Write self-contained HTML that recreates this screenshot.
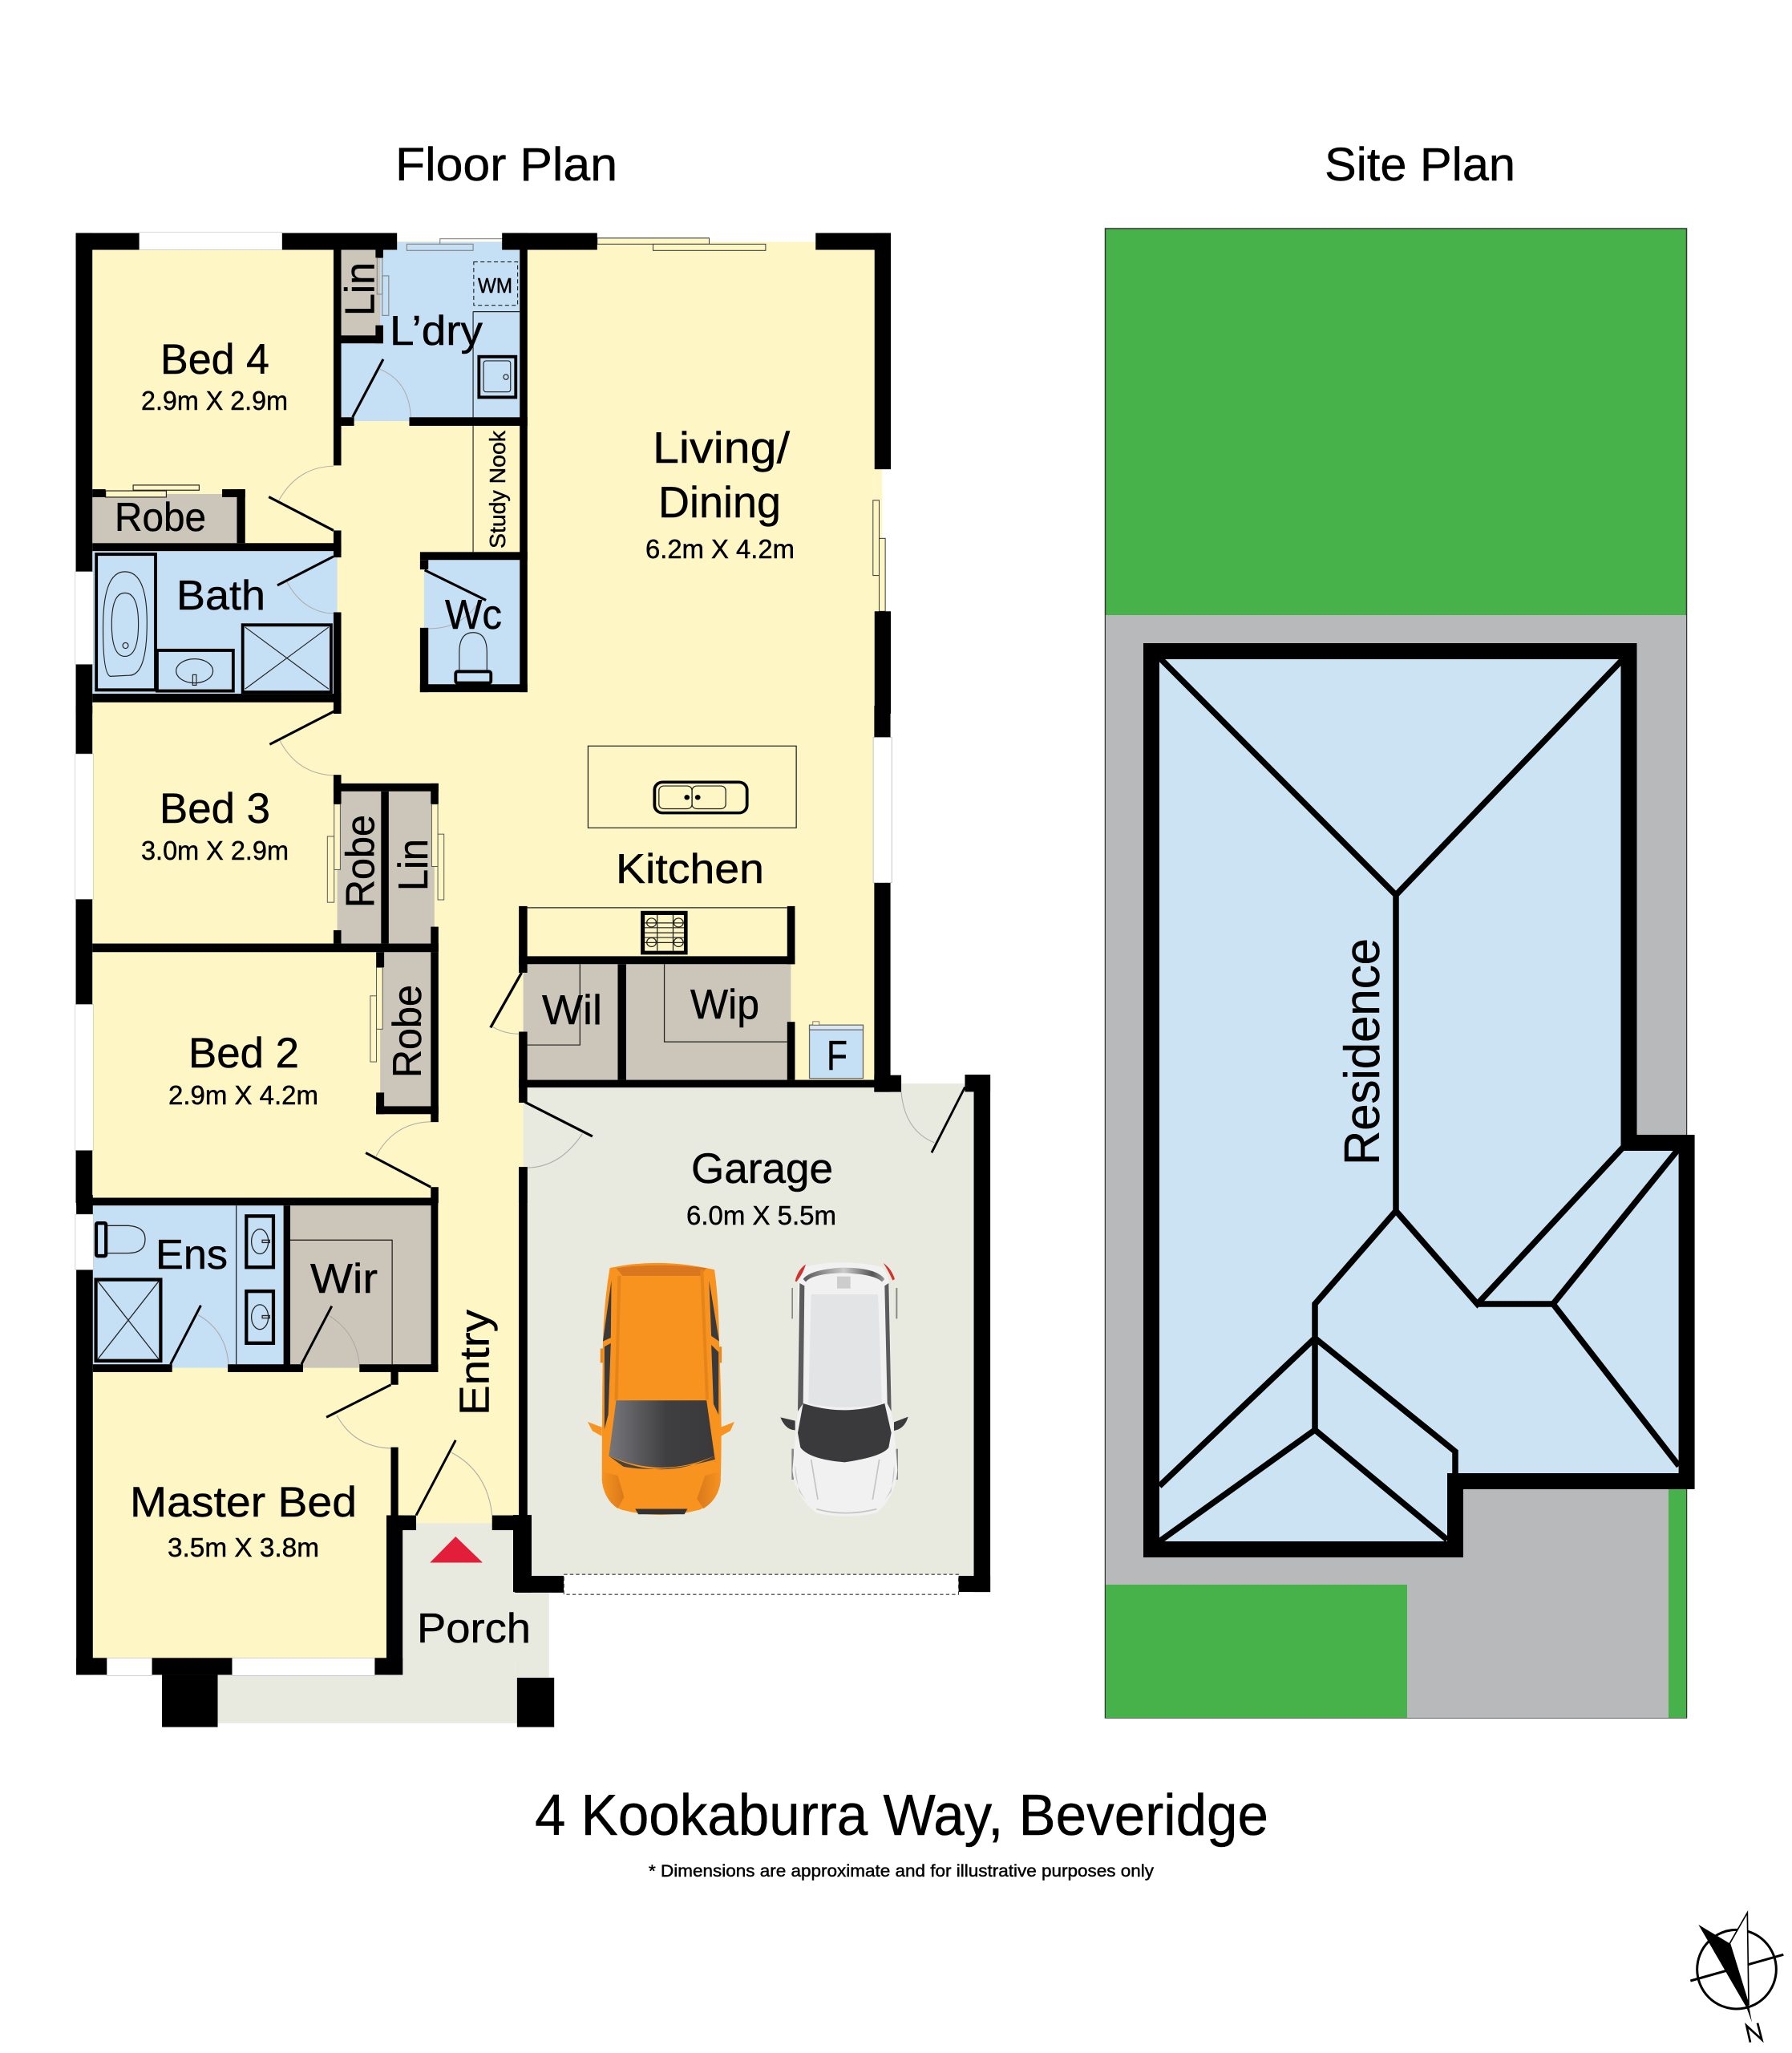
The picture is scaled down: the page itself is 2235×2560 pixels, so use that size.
<!DOCTYPE html>
<html><head><meta charset="utf-8"><style>
html,body{margin:0;padding:0;background:#fff}
svg{display:block}
text{font-family:"Liberation Sans",sans-serif;fill:#000;stroke:#000;stroke-width:.45}
</style></head><body>
<svg xmlns="http://www.w3.org/2000/svg" width="2235" height="2560" viewBox="0 0 2235 2560">
<defs>
<linearGradient id="ws" x1="0" y1="0" x2="1" y2="0"><stop offset="0" stop-color="#77777b"/><stop offset=".55" stop-color="#3f3e40"/><stop offset="1" stop-color="#3a393b"/></linearGradient>
<linearGradient id="hl" x1="0" y1="0" x2="1" y2="0"><stop offset="0" stop-color="#f7931e"/><stop offset="1" stop-color="#d9791c"/></linearGradient>
<linearGradient id="hr" x1="1" y1="0" x2="0" y2="0"><stop offset="0" stop-color="#f7931e"/><stop offset="1" stop-color="#d9791c"/></linearGradient>
<linearGradient id="wt" x1="0" y1="0" x2="1" y2="0"><stop offset="0" stop-color="#555"/><stop offset=".5" stop-color="#ccc"/><stop offset=".85" stop-color="#555"/><stop offset="1" stop-color="#999"/></linearGradient>
</defs>
<rect width="2235" height="2560" fill="#fff"/>
<rect x="110" y="301" width="990" height="1054" fill="#fef6c4"/>
<rect x="110" y="1355" width="545" height="715" fill="#fef6c4"/>

<!-- ZONE 5 garage base -->
<g transform="translate(640 1340) scale(.39541 .44643)">
<rect x="32" y="36" width="1421" height="1370" fill="#e9eadf"/>
<rect x="1225" y="25" width="200" height="15" fill="#e9eadf"/>
</g>

<!-- ZONE 1 -->
<g transform="translate(80 270) scale(.38265 .39541)">
<rect x="92" y="875" width="471" height="155" fill="#ccc6ba"/>
<rect x="92" y="1055" width="798" height="450" fill="#c5dff4"/>
<rect x="903" y="80" width="582" height="565" fill="#c5dff4"/>
<rect x="903" y="105" width="127" height="270" fill="#ccc6ba"/>
<rect x="1173" y="1083" width="312" height="392" fill="#c5dff4"/>
<g fill="none" stroke="#aaa" stroke-width="2.5">
<path d="M700 895Q760 790 878 787"/><path d="M725 1150Q780 1250 880 1252"/><path d="M1030 482Q1125 520 1130 633"/><path d="M1187 1300Q1290 1300 1345 1225"/>
</g>
<g fill="none" stroke="#222" stroke-width="3">
<path d="M1333 300H1485M1333 300V1058"/>
<rect x="135" y="865" width="198" height="20" fill="#fef6c4"/><rect x="225" y="847" width="215" height="16" fill="#fef6c4"/>
<rect x="1020" y="130" width="17" height="115" stroke="#888"/><rect x="1037" y="187" width="21" height="125" stroke="#888"/>
<rect x="1117" y="87" width="216" height="20" stroke="#888"/><path d="M1225 87V70H1428" stroke="#888"/>
<rect x="1335" y="143" width="143" height="137" stroke-dasharray="13 9"/>
<rect x="1367" y="455" width="88" height="98" rx="8"/><circle cx="1440" cy="506" r="8"/>
<path d="M150 1450Q125 1440 127 1280Q130 1120 198 1120Q270 1120 270 1280Q270 1450 210 1447Z"/>
<path d="M198 1187Q155 1187 155 1285Q155 1387 198 1387Q242 1387 242 1285Q242 1187 198 1187Z"/>
<circle cx="200" cy="1353" r="9"/>
<ellipse cx="425" cy="1433" rx="60" ry="38"/><rect x="419" y="1445" width="12" height="33"/>
<path d="M590 1295L862 1490M862 1295L590 1490"/>
<path d="M1288 1432V1375Q1288 1312 1333 1312Q1378 1312 1378 1375V1432"/>
</g>
<g fill="none" stroke="#000" stroke-width="10">
<rect x="105" y="1065" width="193" height="428"/><rect x="303" y="1368" width="248" height="128"/><rect x="582" y="1288" width="288" height="212"/>
<rect x="1352" y="442" width="120" height="128"/><rect x="1276" y="1435" width="115" height="36" rx="6"/>
</g>
<path d="M667 884L878 990M695 1163L878 1072M1040 450L940 633M1175 1115L1375 1210" stroke="#000" stroke-width="8" fill="none"/>
<g fill="#000">
<rect x="38" y="52" width="54" height="1516"/><rect x="38" y="52" width="1047" height="53"/>
<rect x="878" y="105" width="25" height="680"/><rect x="878" y="990" width="25" height="85"/><rect x="92" y="1030" width="811" height="25"/>
<rect x="563" y="860" width="27" height="170"/><rect x="92" y="860" width="43" height="25"/><rect x="515" y="860" width="75" height="25"/>
<rect x="878" y="1248" width="25" height="320"/><rect x="92" y="1505" width="811" height="27"/>
<rect x="1015" y="105" width="25" height="25"/><rect x="1015" y="343" width="25" height="57"/><rect x="903" y="375" width="137" height="25"/>
<rect x="903" y="633" width="42" height="27"/><rect x="1125" y="633" width="385" height="27"/>
<rect x="1485" y="52" width="25" height="1448"/><rect x="1428" y="52" width="82" height="53"/>
<rect x="1160" y="1058" width="350" height="25"/><rect x="1160" y="1083" width="27" height="30"/><rect x="1160" y="1297" width="27" height="203"/><rect x="1160" y="1475" width="350" height="25"/>
</g>
<rect x="36" y="1120" width="59" height="292" fill="#fff" stroke="#bbb" stroke-width="1.5"/>
<rect x="245" y="50" width="465" height="55" fill="#fff" stroke="#bbb" stroke-width="1.5"/>
</g>

<!-- ZONE 8 -->
<g transform="translate(560 270) scale(.38265 .39541)">
<rect x="483" y="40" width="712" height="40" fill="#fff"/>
<rect x="1387" y="797" width="60" height="448" fill="#fff"/>
<rect x="1387" y="797" width="25" height="448" fill="#fef6c4"/>
<g fill="#fef6c4" stroke="#333" stroke-width="2.5">
<path d="M483 68H848V87H483Z"/><rect x="665" y="87" width="367" height="20"/>
<rect x="1382" y="895" width="20" height="237"/><rect x="1402" y="1015" width="20" height="230"/>
</g>
<g fill="#000">
<rect x="173" y="52" width="310" height="53"/><rect x="1195" y="52" width="245" height="53"/><rect x="1387" y="52" width="53" height="745"/><rect x="1387" y="1245" width="53" height="323"/>
</g>
</g>

<!-- ZONE 2 -->
<g transform="translate(80 880) scale(.38265 .39541)">
<rect x="890" y="270" width="143" height="480" fill="#ccc6ba"/><rect x="1058" y="270" width="149" height="480" fill="#ccc6ba"/>
<rect x="1030" y="777" width="165" height="486" fill="#ccc6ba"/>
<g fill="none" stroke="#aaa" stroke-width="2.5"><path d="M703 110Q760 215 878 220"/><path d="M1017 1420Q1075 1315 1195 1312"/></g>
<g fill="#fef6c4" stroke="#555" stroke-width="2.5">
<rect x="858" y="412" width="22" height="208"/><rect x="1218" y="405" width="20" height="207"/><rect x="998" y="915" width="20" height="208"/>
<rect x="880" y="310" width="20" height="207"/><rect x="1198" y="310" width="20" height="197"/><rect x="1018" y="825" width="20" height="195"/>
</g>
<path d="M670 122L885 15M983 1410L1195 1518" stroke="#000" stroke-width="8" fill="none"/>
<g fill="#000">
<rect x="38" y="0" width="54" height="1568"/><rect x="878" y="0" width="25" height="15"/>
<rect x="878" y="218" width="25" height="92"/><rect x="878" y="245" width="342" height="25"/><rect x="1195" y="245" width="25" height="65"/>
<rect x="1033" y="270" width="25" height="480"/><rect x="878" y="708" width="25" height="42"/><rect x="1195" y="697" width="25" height="80"/>
<rect x="92" y="750" width="1128" height="27"/><rect x="1017" y="777" width="26" height="48"/><rect x="1017" y="1220" width="26" height="68"/>
<rect x="1017" y="1263" width="203" height="25"/><rect x="1195" y="777" width="25" height="536"/><rect x="1195" y="1518" width="25" height="50"/>
</g>
<g fill="#fff" stroke="#bbb" stroke-width="1.5"><rect x="36" y="152" width="59" height="458"/><rect x="36" y="942" width="59" height="460"/></g>
</g>

<!-- ZONE 4 -->
<g transform="translate(600 880) scale(.42092 .39541)">
<rect x="125" y="815" width="280" height="365" fill="#ccc6ba"/><rect x="430" y="815" width="488" height="365" fill="#ccc6ba"/>
<g fill="none" stroke="#aaa" stroke-width="2.5"><path d="M35 1013Q70 1035 112 1035"/><path d="M300 1350Q235 1455 137 1457"/><path d="M1245 1218Q1255 1340 1343 1378"/></g>
<g fill="none" stroke="#222" stroke-width="3">
<path d="M137 637H907M293 815V1070H137M543 815V1060H907"/>
<rect x="317" y="127" width="617" height="258"/>
<rect x="527" y="253" width="98" height="72" rx="14"/><rect x="625" y="253" width="100" height="72" rx="14"/>
</g>
<rect x="514" y="241" width="274" height="97" rx="24" fill="none" stroke="#000" stroke-width="9"/>
<circle cx="610" cy="289" r="8"/><circle cx="642" cy="289" r="8"/>
<rect x="473" y="647" width="139" height="138" fill="#000"/><rect x="485" y="660" width="116" height="113" fill="#fef6c4"/>
<g fill="none" stroke="#222" stroke-width="3">
<path d="M522 660V773M569 660V773M485 685H601M485 700H601M485 716H601M485 731H601M485 747H601"/>
<circle cx="505" cy="684" r="14"/><circle cx="585" cy="684" r="14"/><circle cx="505" cy="746" r="14"/><circle cx="585" cy="746" r="14"/>
</g>
<rect x="973" y="1007" width="159" height="168" fill="#c5dff4" stroke="#666" stroke-width="3"/>
<rect x="973" y="1007" width="159" height="15" fill="#dbe8f2" stroke="#666" stroke-width="3"/>
<rect x="983" y="996" width="19" height="11" fill="#fef6c4" stroke="#666" stroke-width="2"/>
<path d="M120 842L28 1015M130 1250L330 1358" stroke="#000" stroke-width="8" fill="none"/>
<g fill="#000">
<rect x="112" y="632" width="25" height="210"/><rect x="112" y="1028" width="25" height="224"/><rect x="112" y="1455" width="25" height="113"/>
<rect x="907" y="632" width="23" height="183"/><rect x="112" y="790" width="818" height="25"/><rect x="405" y="815" width="25" height="365"/>
<rect x="907" y="997" width="23" height="183"/><rect x="112" y="1180" width="1133" height="24"/><rect x="1165" y="1165" width="80" height="53"/>
<rect x="1165" y="558" width="48" height="660"/><rect x="1165" y="0" width="48" height="100"/>
</g>
<rect x="1162" y="100" width="55" height="458" fill="#fff" stroke="#bbb" stroke-width="2"/>
</g>

<!-- ZONE 3 -->
<g transform="translate(80 1490) scale(.42092 .44005)">
<rect x="85" y="30" width="565" height="460" fill="#c5dff4"/>
<rect x="670" y="30" width="417" height="460" fill="#ccc6ba"/>
<rect x="1003" y="930" width="333" height="430" fill="#e9eadf"/>
<rect x="1336" y="1127" width="101" height="240" fill="#e9eadf"/>
<rect x="455" y="1360" width="887" height="137" fill="#e9eadf"/>
<g fill="none" stroke="#aaa" stroke-width="2.5">
<path d="M397 340Q480 385 487 480"/><path d="M785 342Q865 390 875 480"/><path d="M808 625Q860 715 968 718"/><path d="M1148 730Q1255 785 1268 908"/>
</g>
<g fill="none" stroke="#222" stroke-width="3">
<path d="M510 30V480M670 128H972V480"/>
<path d="M128 87H190Q240 90 240 125Q240 165 190 165H128"/>
<path d="M100 245L280 465M280 245L100 465"/>
<ellipse cx="580" cy="132" rx="25" ry="35"/><ellipse cx="580" cy="346" rx="25" ry="35"/>
<rect x="587" y="128" width="22" height="7"/><rect x="587" y="342" width="22" height="7"/>
</g>
<g fill="none" stroke="#000" stroke-width="10">
<rect x="95" y="80" width="29" height="93" rx="4"/><rect x="94" y="240" width="192" height="230"/>
<rect x="540" y="60" width="80" height="145"/><rect x="540" y="273" width="80" height="147"/>
</g>
<path d="M405 313L315 480M793 315L703 480M777 630L968 538M1160 695L1043 908" stroke="#000" stroke-width="7" fill="none"/>
<g fill="#000">
<rect x="36" y="8" width="1072" height="22"/><rect x="36" y="0" width="49" height="1360"/>
<rect x="650" y="30" width="20" height="470"/><rect x="1087" y="0" width="21" height="502"/>
<rect x="85" y="480" width="235" height="22"/><rect x="485" y="480" width="223" height="22"/><rect x="875" y="480" width="233" height="22"/>
<rect x="968" y="500" width="22" height="38"/><rect x="968" y="715" width="22" height="200"/>
<rect x="955" y="908" width="48" height="452"/><rect x="955" y="908" width="88" height="42"/><rect x="1268" y="908" width="117" height="42"/>
<rect x="1348" y="0" width="24" height="910"/><rect x="1336" y="908" width="49" height="219"/><rect x="1336" y="1080" width="144" height="47"/>
<rect x="36" y="1312" width="967" height="48"/>
<rect x="290" y="1360" width="165" height="148"/><rect x="1342" y="1368" width="110" height="140"/>
</g>
<g fill="#fff" stroke="#bbb" stroke-width="1.5"><rect x="33" y="55" width="54" height="157"/><rect x="127" y="1312" width="133" height="50"/><rect x="498" y="1312" width="422" height="50"/></g>
<path d="M1160 968L1084 1042H1240Z" fill="#e31e3a"/>
</g>

<!-- ZONE 5 garage walls and orange car -->
<g transform="translate(640 1340) scale(.39541 .44643)">
<path d="M1425 35L1320 218" stroke="#000" stroke-width="7" fill="none"/>
<g fill="#000">
<rect x="1453" y="0" width="52" height="1445"/><rect x="1425" y="0" width="80" height="48"/>
<rect x="18" y="258" width="27" height="972"/><rect x="0" y="1230" width="58" height="215"/><rect x="0" y="1400" width="160" height="45"/><rect x="1405" y="1400" width="100" height="45"/>
</g>
<rect x="160" y="1396" width="1245" height="56" fill="#fff" stroke="#333" stroke-width="2.5" stroke-dasharray="11 8"/>
<path d="M235 970L280 985V1010L250 995ZM698 970L655 985V1010L685 995Z" fill="#f7931e"/>
<path d="M275 765H285V805H275ZM648 760H658V805H648Z" fill="#e68a1c"/>
<path d="M305 540Q460 510 635 545Q650 640 650 760Q660 950 655 1120Q650 1190 590 1215Q465 1245 340 1215Q285 1190 280 1130Q280 950 283 760Q285 640 305 540Z" fill="#f7931e"/>
<path d="M325 540Q460 525 610 540L590 562H345Z" fill="#d9761f"/>
<path d="M335 562L325 910M595 545L612 908" stroke="#e5841a" stroke-width="10" fill="none"/>
<path d="M310 575L283 745L308 735ZM618 575L650 745L625 730Z" fill="#3a3a3c"/>
<path d="M288 760L308 750L300 950L288 990ZM625 755L648 775V950L632 920Z" fill="#3a3a3c"/>
<path d="M325 910H610L635 1065Q470 1130 302 1065Z" fill="url(#ws)"/>
<path d="M302 1065Q470 1140 635 1065L637 1075Q470 1115 348 1095Z" fill="#3a3a3c" opacity=".9"/>
<path d="M285 1110L330 1120L350 1180L330 1212Q285 1185 280 1130Z" fill="url(#hl)"/>
<path d="M650 1110L605 1120L580 1185L600 1212Q650 1185 655 1130Z" fill="url(#hr)"/>
<path d="M385 1213H550L540 1228H395Z" fill="#333"/>
</g>

<!-- white car -->
<g transform="translate(960 1560) scale(.33333)">
<path d="M40 622L95 635V670Q60 670 40 622ZM518 620L465 640V672Q505 665 518 620Z" fill="#3a3a3c"/>
<path d="M82 138h5v115h-5ZM472 138h6v115h-6ZM82 740h8v115h-8ZM472 740h8v115h-8Z" fill="#888"/>
<path d="M130 60Q270 25 420 60Q455 90 450 200L455 600Q470 700 478 820Q470 920 400 980Q280 1005 175 980Q95 920 85 820Q95 700 105 600L105 200Q100 90 130 60Z" fill="#f1f1f2"/>
<path d="M95 112Q105 70 135 50Q125 85 100 115ZM425 45Q455 65 468 105L460 110Q445 75 425 45Z" fill="#d2322d"/>
<path d="M125 105Q150 70 270 62Q400 62 430 105L420 115Q390 85 270 82Q160 85 135 115Z" fill="url(#wt)"/>
<path d="M112 120L130 130L125 570L105 600ZM445 120L430 130L440 570L455 600Z" fill="#5b5b5e"/>
<path d="M155 162H405L420 570Q280 600 145 570Z" fill="#e3e4e5"/>
<rect x="252" y="95" width="50" height="45" fill="#cdcdce"/>
<path d="M125 570Q280 620 430 570L455 680L445 735Q420 770 280 790Q150 780 115 735L105 680Z" fill="#3a3a3c"/>
<path d="M155 780L180 930M410 780L385 930M175 965Q280 995 400 965" stroke="#c4c4c6" stroke-width="5" fill="none"/>
<path d="M95 800Q90 880 150 950L110 900ZM465 800Q475 880 415 950L455 900Z" fill="#ccc"/>
</g>

<!-- SITE PLAN -->
<rect x="1378.5" y="285" width="725" height="1857" fill="#47b24a" stroke="#333" stroke-width="1.5"/>
<rect x="1379" y="767" width="724" height="1375" fill="#b8b9bb"/>
<rect x="1379" y="1976" width="376" height="166" fill="#47b24a"/>
<rect x="2081" y="1850" width="22" height="292" fill="#47b24a"/>
<path d="M1436 812H2031.5V1425H2103.6V1847H1815V1932H1436Z" fill="#cbe3f3" stroke="#000" stroke-width="20" stroke-miterlimit="10"/>
<path d="M1446 820L1741 1116L2026 820M1741 1116V1510L1640 1626V1783M1741 1510L1842.5 1626L2024 1431M1842.5 1626H1937L2094 1432M1937 1626L2094 1828M1640 1668.6L1446 1853M1640 1668.6L1815 1810V1837M1640 1783L1446 1922M1640 1783L1805 1920" fill="none" stroke="#000" stroke-width="7.5"/>

<!-- compass -->
<g transform="translate(2080 2380) scale(.33333)">
<circle cx="258" cy="227" r="148" fill="none" stroke="#000" stroke-width="9"/>
<path d="M85 270L433 172" stroke="#000" stroke-width="9"/>
<path d="M232 130L298 15L303 360Z" fill="#fff" stroke="#000" stroke-width="5"/>
<path d="M115 60L232 130L303 360L315 425L295 370L150 120Z" fill="#000"/>
<path d="M309 500L295 438L352 490L336 428" fill="none" stroke="#000" stroke-width="8"/>
</g>

<!-- labels -->
<text x="493" y="225" font-size="58" textLength="277" lengthAdjust="spacingAndGlyphs">Floor Plan</text>
<text x="1652" y="225" font-size="58" textLength="238" lengthAdjust="spacingAndGlyphs">Site Plan</text>
<text x="667" y="2288" font-size="72" textLength="915" lengthAdjust="spacingAndGlyphs">4 Kookaburra Way, Beveridge</text>
<text x="809" y="2340" font-size="21" textLength="630" lengthAdjust="spacingAndGlyphs">* Dimensions are approximate and for illustrative purposes only</text>
<text x="200" y="466" font-size="53" textLength="136" lengthAdjust="spacingAndGlyphs">Bed 4</text>
<text x="176" y="511" font-size="33" textLength="183" lengthAdjust="spacingAndGlyphs">2.9m X 2.9m</text>
<text x="143" y="662" font-size="50" textLength="114" lengthAdjust="spacingAndGlyphs">Robe</text>
<text x="220" y="760" font-size="52" textLength="111" lengthAdjust="spacingAndGlyphs">Bath</text>
<text x="486" y="430" font-size="52" textLength="116" lengthAdjust="spacingAndGlyphs">L’dry</text>
<text x="596" y="365" font-size="26" textLength="43" lengthAdjust="spacingAndGlyphs">WM</text>
<text x="555" y="784" font-size="52" textLength="71" lengthAdjust="spacingAndGlyphs">Wc</text>
<text x="814" y="577" font-size="55" textLength="171" lengthAdjust="spacingAndGlyphs">Living/</text>
<text x="821" y="645" font-size="55" textLength="153" lengthAdjust="spacingAndGlyphs">Dining</text>
<text x="805" y="696" font-size="33" textLength="186" lengthAdjust="spacingAndGlyphs">6.2m X 4.2m</text>
<text x="199" y="1026" font-size="53" textLength="138" lengthAdjust="spacingAndGlyphs">Bed 3</text>
<text x="176" y="1072" font-size="33" textLength="184" lengthAdjust="spacingAndGlyphs">3.0m X 2.9m</text>
<text x="235" y="1331" font-size="53" textLength="138" lengthAdjust="spacingAndGlyphs">Bed 2</text>
<text x="210" y="1377" font-size="33" textLength="187" lengthAdjust="spacingAndGlyphs">2.9m X 4.2m</text>
<text x="194" y="1582" font-size="52" textLength="90" lengthAdjust="spacingAndGlyphs">Ens</text>
<text x="387" y="1612" font-size="52" textLength="84" lengthAdjust="spacingAndGlyphs">Wir</text>
<text x="162" y="1891" font-size="53" textLength="283" lengthAdjust="spacingAndGlyphs">Master Bed</text>
<text x="209" y="1941" font-size="33" textLength="189" lengthAdjust="spacingAndGlyphs">3.5m X 3.8m</text>
<text x="520" y="2048" font-size="52" textLength="142" lengthAdjust="spacingAndGlyphs">Porch</text>
<text x="768" y="1101" font-size="52" textLength="185" lengthAdjust="spacingAndGlyphs">Kitchen</text>
<text x="676" y="1277" font-size="52" textLength="75" lengthAdjust="spacingAndGlyphs">Wil</text>
<text x="861" y="1270" font-size="52" textLength="86" lengthAdjust="spacingAndGlyphs">Wip</text>
<text x="1031" y="1334" font-size="52" textLength="26" lengthAdjust="spacingAndGlyphs">F</text>
<text x="862" y="1475" font-size="53" textLength="177" lengthAdjust="spacingAndGlyphs">Garage</text>
<text x="856" y="1527" font-size="33" textLength="187" lengthAdjust="spacingAndGlyphs">6.0m X 5.5m</text>
<text transform="translate(466.5 394) rotate(-90)" font-size="52" textLength="67" lengthAdjust="spacingAndGlyphs">Lin</text>
<text transform="translate(630 684) rotate(-90)" font-size="28" textLength="147" lengthAdjust="spacingAndGlyphs">Study Nook</text>
<text transform="translate(466.5 1132) rotate(-90)" font-size="50" textLength="116" lengthAdjust="spacingAndGlyphs">Robe</text>
<text transform="translate(533 1111) rotate(-90)" font-size="52" textLength="65" lengthAdjust="spacingAndGlyphs">Lin</text>
<text transform="translate(525 1344) rotate(-90)" font-size="50" textLength="116" lengthAdjust="spacingAndGlyphs">Robe</text>
<text transform="translate(609.5 1765) rotate(-90)" font-size="52" textLength="132" lengthAdjust="spacingAndGlyphs">Entry</text>
<text transform="translate(1720 1453) rotate(-90)" font-size="62" textLength="283" lengthAdjust="spacingAndGlyphs">Residence</text>
</svg>
</body></html>
